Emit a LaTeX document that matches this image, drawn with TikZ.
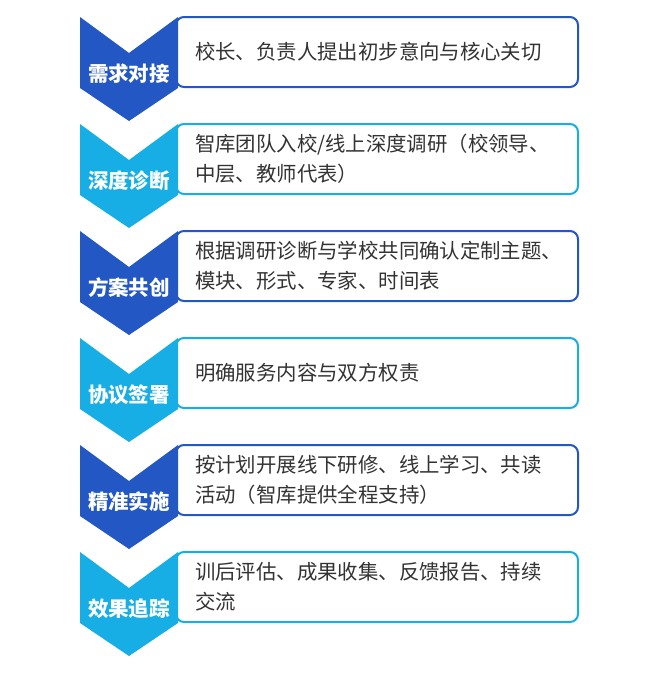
\documentclass[tikz,border=0pt]{standalone}
\usepackage{fontspec}
\setmainfont{Noto Sans CJK SC}
\usepackage{tikz}

\definecolor{deepblue}{HTML}{2257C4}
\definecolor{skyblue}{HTML}{17AEE6}
\definecolor{bodytext}{HTML}{333333}

\tikzset{
  stepbox/.style={draw=#1, line width=2pt, rounded corners=8pt, fill=white,
    minimum width=402pt, minimum height=70pt, text width=364pt, align=left,
    text=bodytext, font=\fontsize{20.4}{30}\selectfont, inner sep=0pt},
  steplabel/.style={text=white, font=\fontsize{20.5}{24}\selectfont\bfseries, inner sep=0pt},
}

% name, top, colour, label, text
\newcommand\flowstep[5]{%
  \node[stepbox=#3] (#1box) at (377,{#2+35}) {#5};
  \fill[#3] (80,#2) -- (129,{#2+36}) -- (178,#2) -- (178,{#2+71})
    -- (129,{#2+104}) -- (80,{#2+71}) -- cycle;
  \node[steplabel] (#1label) at (129,{#2+57}) {#4};
}

\begin{document}
\begin{tikzpicture}[x=1pt,y=-1pt]
\useasboundingbox (0,0) rectangle (660,673);
\flowstep{need}{17}{deepblue}{需求对接}{校长、负责人提出初步意向与核心关切}
\flowstep{diag}{124}{skyblue}{深度诊断}{智库团队入校/线上深度调研（校领导、\\中层、教师代表）}
\flowstep{plan}{231}{deepblue}{方案共创}{根据调研诊断与学校共同确认定制主题、\\模块、形式、专家、时间表}
\flowstep{deal}{338}{skyblue}{协议签署}{明确服务内容与双方权责}
\flowstep{run}{445}{deepblue}{精准实施}{按计划开展线下研修、线上学习、共读\\活动（智库提供全程支持）}
\flowstep{track}{552}{skyblue}{效果追踪}{训后评估、成果收集、反馈报告、持续\\交流}
\end{tikzpicture}
\end{document}
